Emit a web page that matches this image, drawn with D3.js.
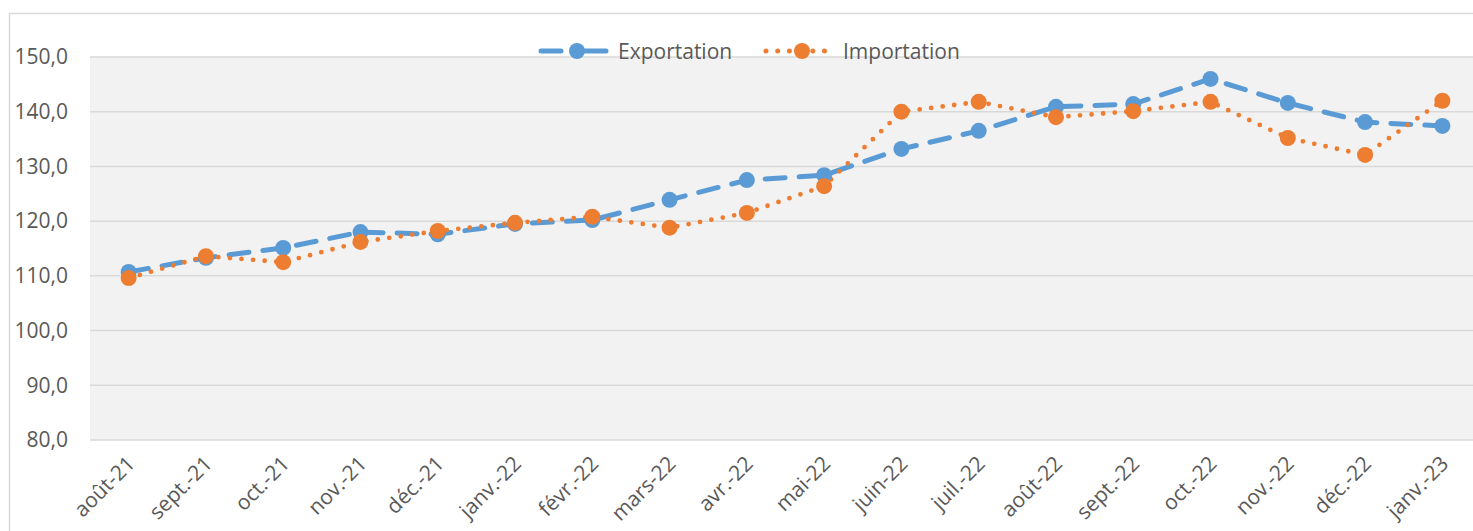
<!DOCTYPE html>
<html>
<head>
<meta charset="utf-8">
<script src="https://d3js.org/d3.v7.min.js"></script>
<style>
  body { margin: 0; background: #fff; }
  svg { display: block; font-family: "Open Sans", "Noto Sans", sans-serif; }
</style>
</head>
<body>
<div id="chart"></div>
<script>
// data
const months = ["août-21", "sept.-21", "oct.-21", "nov.-21", "déc.-21", "janv.-22",
  "févr.-22", "mars-22", "avr.-22", "mai-22", "juin-22", "juil.-22", "août-22",
  "sept.-22", "oct.-22", "nov.-22", "déc.-22", "janv.-23"];
const exportation = [110.7, 113.3, 115.1, 118.0, 117.6, 119.5, 120.2, 123.9, 127.5, 128.4,
  133.2, 136.5, 140.9, 141.4, 146.0, 141.6, 138.1, 137.4];
const importation = [109.6, 113.6, 112.5, 116.2, 118.2, 119.7, 120.8, 118.8, 121.5, 126.4,
  140.0, 141.8, 139.0, 140.1, 141.8, 135.2, 132.1, 142.0];
const yTicks = [80, 90, 100, 110, 120, 130, 140, 150];

const width = 1473, height = 531;
const marginLeft = 90, marginTop = 57;
const plotW = 1391, plotH = 383;
const fontSize = "21px";

const svg = d3.select("#chart").append("svg")
    .attr("width", width)
    .attr("height", height);

// chart frame
svg.append("rect")
    .attr("x", 9.5).attr("y", 13.5)
    .attr("width", 1480).attr("height", 540)
    .attr("fill", "#fff")
    .attr("stroke", "#d9d9d9")
    .attr("stroke-width", 1.5);

const x = d3.scalePoint().domain(months).range([0, plotW]).padding(0.5);
const y = d3.scaleLinear().domain([80, 150]).range([plotH, 0]);

const g = svg.append("g").attr("transform", "translate(" + marginLeft + "," + marginTop + ")");

g.append("rect")
    .attr("width", plotW).attr("height", plotH)
    .attr("fill", "#f2f2f2");

// gridlines
g.append("g")
  .selectAll("line")
  .data(yTicks)
  .join("line")
    .attr("x1", 0).attr("x2", plotW)
    .attr("y1", d => y(d)).attr("y2", d => y(d))
    .attr("stroke", "#d9d9d9")
    .attr("stroke-width", 1.5);

// y axis labels
const yAxis = g.append("g")
    .call(d3.axisLeft(y).tickValues(yTicks).tickSize(0).tickPadding(22)
      .tickFormat(d => d3.format(".1f")(d).replace(".", ",")));
yAxis.select(".domain").remove();
yAxis.selectAll("text")
    .attr("fill", "#595959")
    .style("font-size", fontSize)
    .style("font-family", "'Open Sans', 'Noto Sans', sans-serif");

// x axis labels
const xAxis = g.append("g")
    .attr("transform", "translate(0," + plotH + ")")
    .call(d3.axisBottom(x).tickSize(0));
xAxis.select(".domain").remove();
xAxis.selectAll("text")
    .attr("fill", "#595959")
    .style("font-size", fontSize)
    .style("font-family", "'Open Sans', 'Noto Sans', sans-serif")
    .attr("text-anchor", "end")
    .attr("dy", null)
    .attr("y", 0)
    .attr("transform", "translate(7,25) rotate(-45)");

const line = d3.line()
    .x((d, i) => x(months[i]))
    .y(d => y(d));

const exportColor = "#5b9bd5", importColor = "#ed7d31";

g.append("path")
    .datum(exportation)
    .attr("d", line)
    .attr("fill", "none")
    .attr("stroke", exportColor)
    .attr("stroke-width", 5)
    .attr("stroke-linecap", "round")
    .attr("stroke-dasharray", "20 14");

g.append("path")
    .datum(importation)
    .attr("d", line)
    .attr("fill", "none")
    .attr("stroke", importColor)
    .attr("stroke-width", 4.8)
    .attr("stroke-linecap", "round")
    .attr("stroke-dasharray", "0 11.6");

g.append("g")
  .selectAll("circle")
  .data(exportation)
  .join("circle")
    .attr("cx", (d, i) => x(months[i]))
    .attr("cy", d => y(d))
    .attr("r", 8)
    .attr("fill", exportColor);

g.append("g")
  .selectAll("circle")
  .data(importation)
  .join("circle")
    .attr("cx", (d, i) => x(months[i]))
    .attr("cy", d => y(d))
    .attr("r", 8)
    .attr("fill", importColor);

// legend
const legend = svg.append("g");
const items = [
  { name: "Exportation", color: exportColor, dash: "20 24 30", x0: 541 },
  { name: "Importation", color: importColor, dash: "0 11.7", x0: 766 }
];
items.forEach(it => {
  legend.append("line")
      .attr("x1", it.x0).attr("x2", it.x0 + 65)
      .attr("y1", 51).attr("y2", 51)
      .attr("stroke", it.color)
      .attr("stroke-width", 5)
      .attr("stroke-linecap", "round")
      .attr("stroke-dasharray", it.dash);
  legend.append("circle")
      .attr("cx", it.x0 + 36).attr("cy", 51).attr("r", 8)
      .attr("fill", it.color);
  legend.append("text")
      .attr("x", it.x0 + 77).attr("y", 58.5)
      .attr("fill", "#595959")
      .style("font-size", fontSize)
      .text(it.name);
});
</script>
</body>
</html>
